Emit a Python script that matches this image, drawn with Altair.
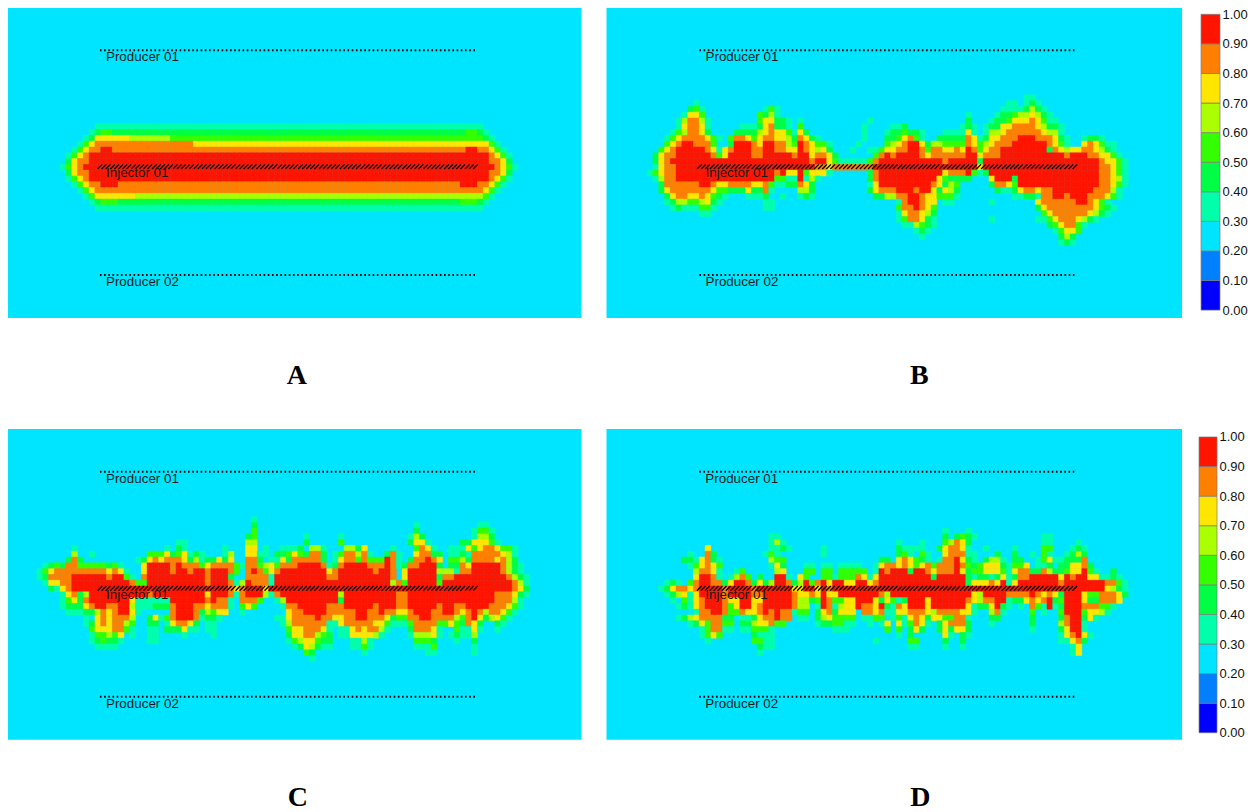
import re
import altair as alt
import pandas as pd

# Saturation classes: "col:digits" lists consecutive cells,
# "col:d*n" is a run of n cells of class d. Class d stands for the band 0.d-0.(d+1).
PANEL_A = {
20: "15:3*67",
21: "14:3 15:4 16:55 18:4*61 79:55 81:4 82:3",
22: "13:3 14:4 15:7*6 21:6*7 28:5*54 82:4 83:3",
23: "12:3 13:5 14:7 15:8*17 32:7*51 83:5 84:3",
24: "11:3 12:5 13:7 14:88 16:99 18:8*61 79:99 81:88 83:7 84:5 85:3",
25: "10:3 11:5 12:7 13:8 14:9*69 83:8 84:7 85:5 86:3",
26: "10:4 11:7 12:88 14:9*69 83:88 85:7 86:4",
27: "9:3 10:5 11:7 12:8 13:9*71 84:8 85:7 86:5 87:3",
28: "10:4 11:7 12:88 14:9*69 83:88 85:7 86:4",
29: "10:3 11:5 12:7 13:8 14:9*69 83:8 84:7 85:5 86:3",
30: "11:3 12:5 13:7 14:88 16:999 19:8*59 78:999 81:88 83:7 84:5 85:3",
31: "12:3 13:5 14:7 15:8*67 82:7 83:5 84:3",
32: "13:3 14:5 15:7*7 22:6*60 82:5 83:3",
33: "14:3 15:4 16:555 19:4*59 78:555 81:4 82:3",
34: "15:3*67",
}

PANEL_B = {
15: "72:33",
16: "15:3 69:33 72:343",
17: "14:453 27:353 68:3333 72:4643",
18: "13:3775 26:5463 62:3 67:3445667643",
19: "12:368863 26:577443 33:3 45:3 62:4 66:3 67:44 69:5 70:777 73:8 74:7 75:5 76:33",
20: "12:3 13:7 14:88 16:73 23:333 26:4784 30:43 33:5 44:3 49:334 61:343 65:3 66:44 68:77 70:8888 74:7 75:6 76:44 78:3",
21: "11:35 13:6 14:88 16:74 22:4444 26:678 29:77 31:5 32:3 33:74 44:3 48:3 49:44 51:5 52:44 54:3 58:3333 62:73 65:3 66:66 68:7 69:8*6 75:7 76:66 78:3",
22: "10:3578 14:88 16:8753 21:588 24:7 25:5 26:788 29:77 31:648743 44:3 48:44 50:5785 54:3 57:44444 62:873 65:4 66:77 68:888 71:999 74:888 77:7 78:43 82:3 83:44 85:3",
23: "10:578 13:99 15:888 18:5 21:4 22:999 25:87 27:99 29:88 31:65 33:987 36:553 43:3 48:567 51:8 52:99 54:74 56:66 58:5555 62:875 65:6 66:788 69:8 70:9*6 76:8 77:75 79:3 82:787 85:5 86:33",
24: "9:578 12:9*5 17:873 20:78 22:999 25:88 27:99 29:88 31:77 33:987 36:674 42:3 45:3 46:35 48:77 50:88 52:99 54:85 56:88 58:77 60:87 62:985 65:7 66:88 68:9*8 76:4 77:876 80:77 82:88 84:7643",
25: "8:47 10:88 12:9*6 18:857 21:9999 25:88 27:9*5 32:8 33:99 35:788 38:74 46:58 48:989 50:9*4 54:87 56:8*6 62:99 64:78 66:88 68:9*11 79:8 80:999 83:88 85:77 87:53",
26: "8:478 11:9*24 35:8 36:99 38:75 40:33333 45:58 47:9*11 58:8 59:9*5 64:4 65:9*20 85:8 86:77 88:53",
27: "8:3788 12:9*24 36:88 38:7 39:8*7 46:9*18 64:7 65:9*20 85:88 87:753",
28: "7:35788 12:9*17 29:89 31:77 33:95 35:7773 45:48 47:9*11 58:7888 62:9534 66:9*19 85:88 87:7 88:53",
29: "8:36 10:88 12:9*17 29:5533 33:9363 45:48 47:9*10 57:75 59:4444 66:7 67:999 70:4 71:9*14 85:88 87:7 88:63",
30: "9:4 10:8*6 16:99 18:877 21:8888 25:77 27:85 29:3344 33:874 45:37 47:9*9 56:874 59:65 66:4 67:88 69:75 71:9*14 85:88 87:753",
31: "9:47 11:8*7 18:755 21:444 24:744 27:83 33:664 45:47 47:888 50:999 53:8 54:99 56:747 59:64 67:4 68:33 70:47 72:88 74:7 75:88 77:9*7 84:888 87:63",
32: "10:47 12:88 14:7787543 24:3334 30:3 33:343 46:4 47:466 50:88 52:99 54:877 57:5553 70:33 72:443 75:88 77:99 79:8 80:999 83:888 86:753",
33: "10:34 12:66 14:55 16:674 19:3 27:33 50:38 52:99 54:877 58:33 66:3 74:7 75:8*6 81:99 83:8 84:753",
34: "11:34 13:333 16:553 27:33 50:588 53:987 56:5 74:47 76:8*6 82:88 84:7543",
35: "16:33 50:37 52:88 54:764 75:57 77:8*6 83:7643",
36: "50:3 51:5 52:88 54:743 66:3 74:33 76:57 78:888 81:7643",
37: "51:33 53:6543 76:457 79:88 81:53",
38: "53:343 77:35 79:77 81:5",
39: "54:3 78:464",
40: "78:343",
}

PANEL_C = {
15: "42:3",
16: "42:4 70:3 81:33",
17: "42:5 70:4 80:3 81:55 83:3",
18: "41:45 51:3 57:3 69:3 70:64 80:3 81:66 83:4",
19: "29:33 41:66 51:4 57:5 69:4 70:77 72:3 78:44 80:7 81:77 83:5 84:3",
20: "11:3 27:3 29:43 37:3 41:77 44:3 47:3334 52:663 58:6647 66:3 70:5873 76:333 79:757 82:88 84:755 87:3",
21: "11:6 14:3 24:5557457343 37:36 41:77 43:33 46:4457 50:54 52:88 54:4 56:35 58:88 60:68 62:3 65:483 70:7 71:88 73:44 76:33 78:43 80:8*5 85:7 86:63",
22: "10:484 22:34787888746344747 41:884 45:33 47:74 49:8*5 54:4 56:37 58:885 61:8 62:555 65:983 69:488987 76:55 78:64 80:8*4 84:7 85:8 86:64",
23: "6:3454 10:88 12:5*5 17:453 23:7 24:9999 28:89 30:888 33:57 35:8888 39:53 41:88 43:5675 47:888 50:9999 54:834 57:8 58:9999 62:888 65:983 68:4 69:88 71:999 74:4 76:44 78:87 80:9*5 85:8 86:643",
24: "5:357 8:8*9 17:7873 23:7 24:9999 28:8 29:99 31:8 32:99 34:8 35:999 38:85 41:8985 45:78 47:9*8 55:78 57:9*6 63:8 64:99 66:8 68:7 69:9*5 74:666 77:3 78:88 80:9*5 85:8643",
25: "5:34 7:8888 11:9*6 17:8 18:99 20:53 23:8 24:9*10 34:8 35:999 38:4 41:8888 45:3 46:9*9 55:88 57:9*9 66:8 68:7 69:9*5 74:4 75:88 77:9*9 86:8643",
26: "6:37788 11:9*10 21:855 24:9*10 34:8 35:999 38:836 41:9 42:888 45:3 46:9*20 66:685 69:9*5 74:5 75:9*12 87:863",
27: "7:4378 11:9*27 38:878 41:999 44:7 45:9*42 87:874",
28: "9:37846 14:9*10 24:8 25:9*9 34:7 35:999 38:838 41:999 44:63 46:8 47:9*10 57:6 58:9*9 67:88 69:9*15 84:888 87:743",
29: "9:35748 14:9*7 21:7 22:333 25:333 28:9*6 34:89 36:883 40:888 43:5 46:36 48:9*9 57:4 58:9*9 67:88 69:9*15 84:888 87:63",
30: "9:3444 13:78 15:99 17:88 19:99 21:6 22:333 25:444 28:8 29:999 32:88 34:7 35:888 38:3 40:575 47:3 48:88 50:9*5 55:888 58:9*5 63:8 64:999 67:88 69:9*5 74:8 75:99 77:88 79:9999 83:888 86:753",
31: "10:333 13:44 15:6 16:878 19:99 21:73 28:8 29:999 32:8 33:4 34:6 35:5 36:77 40:3 48:7 49:88 51:9999 55:8*5 60:99 62:88 64:9 65:88 67:77 69:8 70:999 73:88 75:99 77:87 79:8 80:9 81:8 82:6 83:88 85:753",
32: "13:3 15:7878886 24:4735 28:8 29:999 32:8 33:3 34:44 36:3 46:33 48:7 49:8888 53:9 54:88 56:77 58:88 60:99 62:888 65:7 66:4 67:55 69:88 71:99 73:8888 77:65 79:8 80:9 81:7 82:4 83:675 86:3",
33: "13:347 16:8 17:788 20:65 24:44 27:3 28:7 29:88 31:74 34:33 47:36 49:8*6 55:33 57:7 58:8*5 63:77 65:5 66:333 69:5 70:8888 74:55 76:7 77:5 78:4 79:874 84:43",
34: "14:5777 18:88 20:53 24:33 27:444 30:733 34:33 48:577 51:888 54:73 57:33 59:787 62:88 64:63 69:4 70:888 73:73 77:5 78:33 80:73 84:3",
35: "14:355 17:657 21:3 24:33 30:3 35:3 48:477 51:88 53:654 57:33 59:7777 63:63 69:3 70:666 73:73 76:343 79:3 80:6",
36: "14:3 15:45 17:443 24:33 48:356 51:77 53:544 59:33 61:63 70:555 73:4 77:3 80:4",
37: "15:3333 49:34 51:76 53:433 59:33 61:53 70:333 73:5 80:3",
38: "51:54 61:3 72:33 80:3",
39: "52:3",
}

PANEL_D = {
17: "58:3 62:3",
18: "28:33 58:4 60:4 61:5 62:4 63:3 75:33",
19: "28:363 50:3 54:3 58:5 59:6 60:8 61:7 62:4 75:33 81:3",
20: "17:7 28:3343 37:3 50:4 51:333 54:3 57:4 58:7 59:88 61:7 62:3 65:3 70:3 75:55 80:3 81:43",
21: "14:3 17:8 18:4 27:35 29:3 37:3 50:45 52:3 54:53 58:7 59:888 62:33 67:4 70:4 73:3 75:53 79:34 81:6 82:4",
22: "13:4437843 28:655 47:44 50:787543 57:3 58:88 60:974 63:3 65:4 66:663 70:44 74:3 75:573 78:344 81:4 82:8",
23: "14:3 15:5 16:7 17:8 18:7 19:5 28:3 29:7 30:4 34:33 37:33 40:3333 46:3 47:7887875 54:78 56:5 57:888 60:98 62:545 65:777 68:43 70:557 74:3 75:34 78:44 80:77 82:8 83:4",
24: "15:6 16:88 18:7 19:3 22:3 23:5 29:6 30:7 34:55 37:55 40:5*5 46:3 47:98999499 55:87 57:888 60:974 63:55 65:777 68:53 70:788 73:44 75:8644 79:577 82:953 87:4",
25: "15:7 16:99 18:8 19:3 21:3 22:6 23:8 24:5 26:4 29:99 31:3 33:7 34:5 37:55 39:3 40:555 43:8 44:7 45:3 46:7 47:9*9 56:4 57:9*5 62:4 63:3 64:44 66:3 67:4 68:7 69:3 70:4 71:88 73:9*5 78:7 79:9 80:8 81:99 83:77 85:33 87:43",
26: "10:343 14:58 16:99 18:88 20:47 22:99 24:8 25:4746 29:99 31:8 32:46 34:958 37:97 39:99 41:77 43:99 45:78 47:9*15 62:4 63:777 66:8 67:7 68:9 69:3 70:7 71:9*7 78:8 79:9*7 86:88 88:53",
27: "9:3478 13:8 14:78 16:9999 20:8 21:9999 25:8 26:9*6 32:77 34:99 36:7 37:9 38:8 39:9*47 86:764 89:3",
28: "10:346737 16:9999 20:8 21:9999 25:88 27:9*5 32:8 33:77 35:8 36:7 37:9 38:77 40:9*7 47:86 49:9*14 63:76 65:9999 69:8888 73:98 75:7874 79:999 82:7 83:55 85:888 88:74",
29: "11:3 13:5378 17:999 20:877 23:99 25:77 27:9*5 32:866 35:45985577 43:999 46:7 47:47534 52:999 55:7 56:9*6 62:876 65:88 67:99 69:344 72:7878 76:945 79:999 82:744 85:888 88:7",
30: "12:34378 17:999 20:857 23:99 25:78 27:9*5 32:866 36:3983677 43:9887 47:9 48:43 50:87 52:999 55:7 56:9*6 62:73 64:44 66:7 67:9 68:43 71:3 73:85 75:3 76:934 79:999 82:888 85:55 87:3",
31: "15:388 18:99 20:855 23:877 26:8 27:989 30:883 33:55 36:4784777 44:8876 47:8 48:33 50:7 51:78 53:88 55:7 56:6 57:8*4 61:77 63:3 66:68 68:3 73:5 75:3 78:5 79:999 82:5 83:77 85:63",
32: "12:3467 16:8888 20:44 23:334 26:788 29:988 33:33 36:467 39:5555 44:3357 47:5 49:3 50:53 52:787 55:4 56:77 58:55 60:88 62:3 66:44 73:4 78:4 79:8 80:99 82:4 83:73",
33: "14:3475 18:88 20:55 23:44 25:6778 29:55 36:344 39:5533 45:3 47:3 48:7 50:7 51:3 52:587 55:3 57:4 58:78 60:88 62:4 66:3 73:4 78:6 79:8 80:99 82:3",
34: "16:35 18:88 20:33 23:33 25:555 28:3 39:333 48:5 50:5 52:474 57:4 58:74 60:77 62:4 73:3 78:47 80:99 82:3",
35: "16:3575 25:4333 50:3 52:4 58:73 61:43 78:378973",
36: "17:3 25:55 27:33 46:3 52:55 58:4 61:4 78:33 80:784",
37: "26:4 27:33 52:33 58:3 61:3 80:37",
38: "26:3 80:37",
}

BAND_LOW = [0.0, 0.1, 0.2, 0.3, 0.4, 0.5, 0.6, 0.7, 0.8, 0.9]
BAND_HIGH = [0.1, 0.2, 0.3, 0.4, 0.5, 0.6, 0.7, 0.8, 0.9, 1.0]
BAND_CLASS = ["0", "1", "2", "3", "4", "5", "6", "7", "8", "9"]
BAND_COLOR = ["#0000ff", "#0080ff", "#00e5ff", "#00ffaa", "#00ff44", "#33ff00",
              "#aaff00", "#ffe600", "#ff8000", "#ff1400"]
TICK_VALUES = [0.0, 0.1, 0.2, 0.3, 0.4, 0.5, 0.6, 0.7, 0.8, 0.9, 1.0]

WELL_NAMES = ["Producer 01", "Injector 01", "Producer 02"]
WELL_ROWS = [7.3, 27.4, 46.1]
LABEL_ROWS = [8.5, 28.5, 47.3]
WELL_START = 16.0
WELL_END = 81.0
STATIONS = [16.0, 16.7, 17.4, 18.2, 18.9, 19.6, 20.3, 21.0, 21.8, 22.5, 23.2, 23.9, 24.6, 25.4, 26.1,
            26.8, 27.5, 28.2, 29.0, 29.7, 30.4, 31.1, 31.8, 32.6, 33.3, 34.0, 34.7, 35.4, 36.2, 36.9,
            37.6, 38.3, 39.0, 39.8, 40.5, 41.2, 41.9, 42.6, 43.4, 44.1, 44.8, 45.5, 46.2, 47.0, 47.7,
            48.4, 49.1, 49.8, 50.6, 51.3, 52.0, 52.7, 53.4, 54.2, 54.9, 55.6, 56.3, 57.0, 57.8, 58.5,
            59.2, 59.9, 60.6, 61.4, 62.1, 62.8, 63.5, 64.2, 65.0, 65.7, 66.4, 67.1, 67.8, 68.6, 69.3,
            70.0, 70.7, 71.4, 72.2, 72.9, 73.6, 74.3, 75.0, 75.8, 76.5, 77.2, 77.9, 78.6, 79.4, 80.1, 80.8]

BACKGROUND = "#00e5ff"
CELL = 5.8
ROW_TOP = -0.1
HEIGHT = 311


def cells(rows):
    out = {}
    for r, text in rows.items():
        for seg in text.split():
            col, body = seg.split(":")
            col = int(col)
            m = re.fullmatch(r"(\d)\*(\d+)", body)
            digits = m.group(1) * int(m.group(2)) if m else body
            for i, d in enumerate(digits):
                out[(r, col + i)] = d
    return pd.DataFrame([{"r": r, "r2": r + 1, "c": c, "c2": c + 1, "k": k} for (r, c), k in out.items()])


def panel(rows, width, letter, title_dx, shift):
    xs = alt.Scale(domain=[0, width / CELL], nice=False, zero=False)
    ys = alt.Scale(domain=[ROW_TOP + HEIGHT / CELL, ROW_TOP], nice=False, zero=False)
    X = alt.X("c:Q", scale=xs, axis=None)
    Y = alt.Y("r:Q", scale=ys, axis=None)
    band_scale = alt.Scale(domain=BAND_CLASS, range=BAND_COLOR)
    grid = alt.Chart(cells(rows)).mark_rect(strokeWidth=0.5).encode(
        x=X, x2="c2:Q", y=Y, y2="r2:Q",
        color=alt.Color("k:N", scale=band_scale, legend=None),
        stroke=alt.Stroke("k:N", scale=band_scale, legend=None),
    )
    prod = pd.DataFrame({"c": [WELL_START + shift] * 2, "c2": [WELL_END + shift] * 2,
                         "r": [WELL_ROWS[0], WELL_ROWS[2]]})
    producers = alt.Chart(prod).mark_rule(color="black", strokeWidth=2, strokeDash=[1.6, 2.6]).encode(
        x=X, x2="c2:Q", y=Y)
    inj = pd.DataFrame({"c": [s + shift for s in STATIONS], "r": [WELL_ROWS[1]] * len(STATIONS)})
    hatch = alt.Chart(inj).mark_point(shape="M-1,1L1,-1", filled=False, color="black", strokeWidth=1.3,
                                      size=22, opacity=1).encode(x=X, y=Y)
    lab = pd.DataFrame({"c": [WELL_START + shift + 1.05] * 3, "r": LABEL_ROWS, "name": WELL_NAMES})
    labels = alt.Chart(lab).mark_text(align="left", baseline="middle", font="Liberation Sans", fontSize=13.4,
                                      color="#1a1a1a").encode(x=X, y=Y, text="name:N")
    return alt.layer(grid, producers, hatch, labels).properties(
        width=width, height=HEIGHT,
        view=alt.ViewConfig(fill=BACKGROUND, stroke=None),
        title=alt.TitleParams(text=letter, orient="bottom", anchor="middle", font="Liberation Serif",
                              fontWeight="bold", fontSize=28, color="black", offset=44, dx=title_dx),
    )


def colorbar(width, top, bottom):
    df = pd.DataFrame({"low": BAND_LOW, "high": BAND_HIGH, "color": BAND_COLOR})
    return alt.Chart(df).mark_rect(stroke="#7a7a7a", strokeWidth=0.7).encode(
        y=alt.Y("low:Q", scale=alt.Scale(domain=[bottom, top], nice=False, zero=False),
                axis=alt.Axis(orient="right", values=TICK_VALUES, format=".2f", title=None, domain=False,
                              ticks=False, grid=False, labelFont="Liberation Sans", labelFontSize=13,
                              labelColor="#111111", labelPadding=2, labelBaseline="middle")),
        y2="high:Q",
        fill=alt.Fill("color:N", scale=None),
    ).properties(width=width, height=HEIGHT, view=alt.ViewConfig(stroke=None))


right1 = alt.hconcat(panel(PANEL_B, 576, "B", 25, 0.03), colorbar(19, 1.0236, -0.027), spacing=18)
right2 = alt.hconcat(panel(PANEL_D, 576, "D", 26, 0.0), colorbar(18, 1.027, -0.0236), spacing=16)
row1 = alt.hconcat(panel(PANEL_A, 574, "A", 2, -0.14), right1, spacing=25)
row2 = alt.hconcat(panel(PANEL_C, 574, "C", 3, -0.14), right2, spacing=25)
chart = alt.vconcat(row1, row2, spacing=39).properties(
    padding={"left": 0, "top": -1, "right": 0, "bottom": 0}, background="white"
).configure_view(stroke=None)

chart.save("out.html", embed_options={"renderer": "svg", "actions": False})
